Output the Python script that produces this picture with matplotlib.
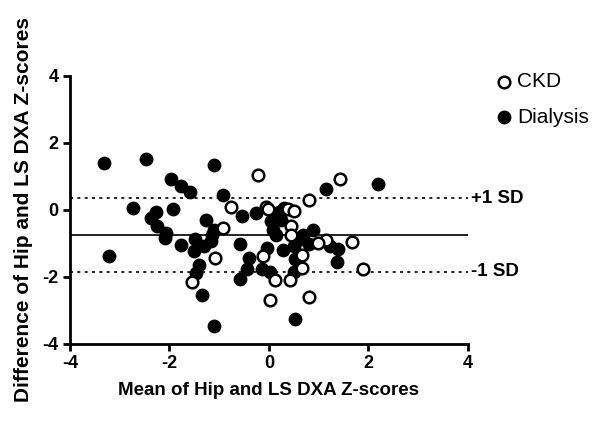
import matplotlib.pyplot as plt

plt.rcParams['font.family'] = ['Liberation Sans', 'DejaVu Sans']
plt.rcParams['axes.unicode_minus'] = False

# CKD (open circles): mean, difference
ckd_mean = [-0.23, 1.42, 0.81, -0.76, -0.06, -0.02, 0.38, 0.51, -0.93, 0.45,
            0.45, 1.15, 0.98, 1.67, -1.08, -0.12, 0.67, 0.67, 1.88, -1.55,
            0.13, 0.43, 0.02, 0.80]
ckd_diff = [1.03, 0.94, 0.30, 0.10, 0.10, 0.02, 0.02, -0.02, -0.54, -0.49,
            -0.74, -0.89, -1.00, -0.97, -1.42, -1.38, -1.33, -1.72, -1.77, -2.14,
            -2.10, -2.10, -2.68, -2.61]

# Dialysis (filled circles)
dia_mean = [-3.32, -2.47, -1.10, -1.97, -1.77, -1.58, -0.93, 1.15, 2.19, -2.74,
            -1.92, -2.27, -2.38, -1.27, -2.26, -2.06, -2.08, -1.10, -1.14, -1.48,
            -1.77, -1.30, -1.16, -1.50, -3.22, -1.41, -1.47, -1.34, -1.10, -0.54,
            -0.26, 0.04, 0.21, 0.30, 0.25, 0.08, 0.14, 0.68, 0.88, 0.58,
            -0.59, -0.41, -0.44, -0.59, -0.04, -0.14, 0.02, 0.29, 0.51, 0.80,
            1.22, 1.38, 1.36, 0.53, 0.51, 0.52]
dia_diff = [1.41, 1.51, 1.35, 0.92, 0.72, 0.54, 0.44, 0.64, 0.77, 0.05,
            0.03, -0.05, -0.25, -0.31, -0.49, -0.69, -0.84, -0.61, -0.74, -0.86,
            -1.05, -1.06, -0.94, -1.23, -1.37, -1.65, -1.87, -2.53, -3.45, -0.18,
            -0.10, -0.34, -0.05, 0.05, -0.30, -0.59, -0.74, -0.74, -0.59, -0.89,
            -1.03, -1.43, -1.75, -2.05, -1.13, -1.75, -1.85, -1.18, -1.06, -1.03,
            -1.08, -1.16, -1.56, -1.46, -1.85, -3.25]

bias = -0.76
upper_sd = 0.345
lower_sd = -1.85

fig = plt.figure(figsize=(5.93, 4.25), dpi=100)
ax = fig.add_axes([0.118, 0.1906, 0.6712, 0.6306])

ax.scatter(dia_mean, dia_diff, s=80, color='black', edgecolor='black', label='Dialysis', zorder=3, clip_on=False)
ax.scatter(ckd_mean, ckd_diff, s=70, facecolor='white', edgecolor='black', linewidth=1.8, label='CKD', zorder=4, clip_on=False)

ax.axhline(bias, color='black', linewidth=1.2, zorder=2)
ax.axhline(upper_sd, color='black', linewidth=1.2, linestyle=(0, (1.8, 2.6)), zorder=2)
ax.axhline(lower_sd, color='black', linewidth=1.2, linestyle=(0, (1.8, 2.6)), zorder=2)

ax.text(4.07, upper_sd, '+1 SD', fontsize=13.5, fontweight='bold', va='center', ha='left')
ax.text(4.07, lower_sd, '-1 SD', fontsize=13.5, fontweight='bold', va='center', ha='left')

ax.set_xlim(-4, 4)
ax.set_ylim(-4, 4)
ax.set_xticks([-4, -2, 0, 2, 4])
ax.set_yticks([-4, -2, 0, 2, 4])
for s in ['top', 'right']:
    ax.spines[s].set_visible(False)
for s in ['left', 'bottom']:
    ax.spines[s].set_linewidth(2)
ax.tick_params(width=2, length=5, labelsize=13, pad=3)
for lbl in ax.get_xticklabels() + ax.get_yticklabels():
    lbl.set_fontweight('bold')

ax.set_xlabel('Mean of Hip and LS DXA Z-scores', fontsize=13.5, fontweight='bold', labelpad=7)
ax.set_ylabel('Difference of Hip and LS DXA Z-scores', fontsize=15, fontweight='bold', labelpad=7)

handles, labels = ax.get_legend_handles_labels()
ax.legend(handles[::-1], labels[::-1], loc='upper left', bbox_to_anchor=(1.044, 1.045),
          frameon=False, fontsize=15, handletextpad=0.1, handlelength=1.0,
          labelspacing=0.8, borderaxespad=0)

fig.savefig('out.png', dpi=100)
